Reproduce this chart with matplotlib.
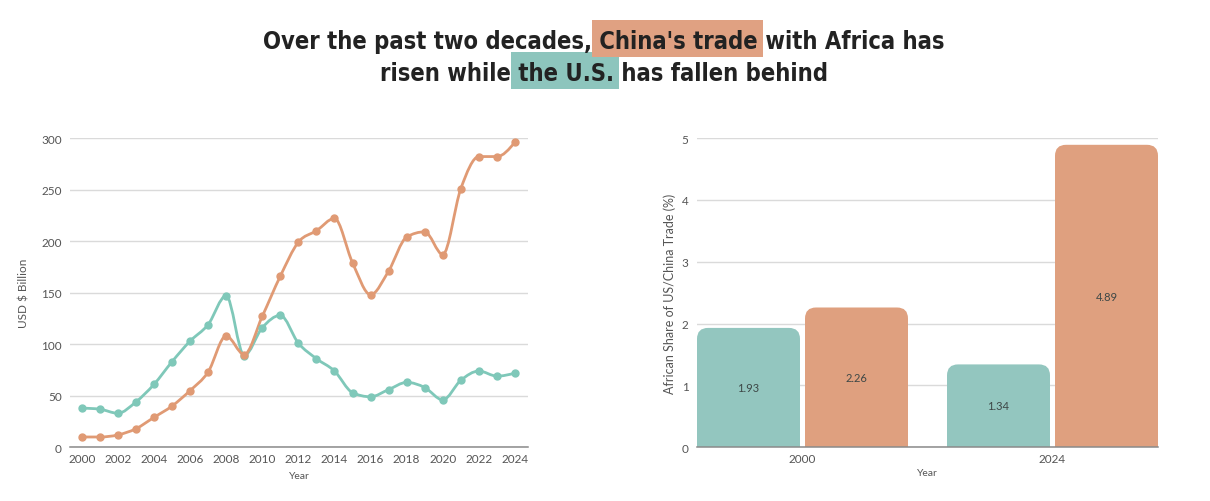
import numpy as np
import matplotlib
matplotlib.use("Agg")
import matplotlib.pyplot as plt
from matplotlib import font_manager
from matplotlib.path import Path
from matplotlib.patches import PathPatch, FancyBboxPatch, Rectangle

# ---------------- data ----------------
years = list(range(2000, 2025))
china_trade = [10, 10, 12, 18, 29, 40, 55, 73, 108, 90, 127, 166, 199, 210, 222,
               179, 148, 171, 204, 209, 187, 251, 282, 282, 296]
us_trade = [38, 37, 33, 44, 61, 83, 103, 119, 147, 89, 116, 128, 101, 86, 74,
            53, 49, 56, 63, 58, 46, 65, 74, 69, 72]
bar_years = ["2000", "2024"]
us_share = [1.93, 1.34]
china_share = [2.26, 4.89]
left_yticks = [0, 50, 100, 150, 200, 250, 300]
left_xticks = list(range(2000, 2025, 2))
right_yticks = [0, 1, 2, 3, 4, 5]

TEAL_LINE = "#7fc8b9"
ORANGE_LINE = "#e09a74"
TEAL_BAR = "#93c6bf"
ORANGE_BAR = "#dfa07f"
TEAL_HL = "#8dc5bd"
ORANGE_HL = "#e0a182"
GRID = "#dadada"
AXIS = "#8a8a8a"
TICK = "#555555"

plt.rcParams['font.family'] = ['Lato', 'DejaVu Sans']

W, H = 1210, 502
fig = plt.figure(figsize=(W / 100, H / 100), dpi=100)
fig.patch.set_facecolor("white")


def monotone_path(x, y):
    x = np.asarray(x, float)
    y = np.asarray(y, float)
    n = len(x)
    h = np.diff(x)
    s = np.diff(y) / h
    t = np.zeros(n)
    for i in range(1, n - 1):
        h0, h1 = h[i - 1], h[i]
        s0, s1 = s[i - 1], s[i]
        p = (s0 * h1 + s1 * h0) / (h0 + h1)
        t[i] = (np.sign(s0) + np.sign(s1)) * min(abs(s0), abs(s1), 0.5 * abs(p))
    t[0] = (3 * s[0] - t[1]) / 2
    t[-1] = (3 * s[-1] - t[-2]) / 2
    verts = [(x[0], y[0])]
    codes = [Path.MOVETO]
    for i in range(n - 1):
        dx = (x[i + 1] - x[i]) / 3
        verts += [(x[i] + dx, y[i] + dx * t[i]),
                  (x[i + 1] - dx, y[i + 1] - dx * t[i + 1]),
                  (x[i + 1], y[i + 1])]
        codes += [Path.CURVE4] * 3
    return Path(verts, codes)


def style_axes(ax):
    for side in ["top", "right", "left"]:
        ax.spines[side].set_visible(False)
    ax.spines["bottom"].set_color(AXIS)
    ax.spines["bottom"].set_linewidth(1.1)
    ax.tick_params(length=0, colors=TICK, labelsize=8.5)
    ax.yaxis.grid(True, color=GRID, linewidth=1)
    ax.set_axisbelow(True)


# ---------------- left: line chart ----------------
axL = fig.add_axes([70 / W, 1 - 448.3 / H, 458 / W, 309.3 / H])
style_axes(axL)
axL.set_xlim(1999.35, 2024.72)
axL.set_ylim(0, 300)
axL.set_yticks(left_yticks)
axL.set_xticks(left_xticks)
axL.tick_params(axis="y", pad=6)
axL.tick_params(axis="x", pad=4)

for vals, col in [(us_trade, TEAL_LINE), (china_trade, ORANGE_LINE)]:
    axL.add_patch(PathPatch(monotone_path(years, vals), facecolor="none",
                            edgecolor=col, lw=2.0, capstyle="round",
                            joinstyle="round", clip_on=False, zorder=3))
    axL.plot(years, vals, linestyle="none", marker="o", markersize=5,
             color=col, clip_on=False, zorder=4)

axL.set_xlabel("Year", fontsize=7.5, color=TICK, labelpad=5)
axL.set_ylabel("USD $ Billion", fontsize=8.5, color=TICK, labelpad=8)

# ---------------- right: bar chart ----------------
axR = fig.add_axes([697 / W, 1 - 448.3 / H, 461 / W, 309.3 / H])
style_axes(axR)
xlim = (-0.422, 1.422)
axR.set_xlim(*xlim)
axR.set_ylim(0, 5)
axR.set_yticks(right_yticks)
xpos = np.arange(len(bar_years))
axR.set_xticks(xpos)
axR.set_xticklabels(bar_years)
axR.tick_params(axis="y", pad=6)
axR.tick_params(axis="x", pad=4)

bw = 0.412
off = 0.216
px_per_x = 461 / (xlim[1] - xlim[0])
px_per_y = 309.3 / 5
rad_px = 11
r_x = rad_px / px_per_x
aspect = (rad_px / px_per_y) / r_x

for vals, col, sgn in [(us_share, TEAL_BAR, -1), (china_share, ORANGE_BAR, 1)]:
    for xi, v in zip(xpos, vals):
        x0 = xi + sgn * off - bw / 2
        axR.add_patch(FancyBboxPatch((x0, 0), bw, v,
                                     boxstyle=f"round,pad=0,rounding_size={r_x}",
                                     mutation_aspect=aspect, facecolor=col,
                                     edgecolor="none", zorder=2))
        axR.add_patch(Rectangle((x0, 0), bw, v / 2, facecolor=col,
                                edgecolor="none", zorder=2))
        axR.text(xi + sgn * off, v / 2, f"{v:.2f}", ha="center", va="center",
                 fontsize=8, color="#3d4746", zorder=3)

axR.set_xlabel("Year", fontsize=7.5, color=TICK, labelpad=3)
axR.set_ylabel("African Share of US/China Trade (%)", fontsize=9, color=TICK,
               labelpad=4)

# ---------------- title with highlighted phrases ----------------
def pick_title_font():
    cands = [dict(family="DejaVu Sans", stretch="condensed"),
             dict(family="Liberation Sans Narrow", stretch="normal"),
             dict(family="Roboto", stretch="normal")]
    for c in cands:
        fp = font_manager.FontProperties(family=c["family"], weight="bold",
                                         stretch=c["stretch"])
        try:
            f = font_manager.findfont(fp, fallback_to_default=False)
        except Exception:
            continue
        low = f.lower()
        if c["family"] == "DejaVu Sans" and "condensed" not in low:
            continue
        if c["family"] == "Liberation Sans Narrow" and "narrow" not in low:
            continue
        return fp
    return font_manager.FontProperties(family="DejaVu Sans", weight="bold")


title_fp = pick_title_font()
title_lines = [
    [("Over the past two decades,", None), (" China's trade", ORANGE_HL),
     (" with Africa has", None)],
    [("risen while", None), (" the U.S.", TEAL_HL), (" has fallen behind", None)],
]
renderer = fig.canvas.get_renderer()
baselines = [49, 81]
center_x = 604
target_w = 683.0

# fit the font size so the first line is as wide as in the reference
size = 18.0
probe = fig.text(0, 0, "".join(s for s, _ in title_lines[0]),
                 fontproperties=title_fp, fontsize=size)
pw = probe.get_window_extent(renderer).width
probe.remove()
size = min(20.0, size * target_w / pw)

for li, (line, base) in enumerate(zip(title_lines, baselines)):
    texts = []
    for seg, hl in line:
        t = fig.text(0, 1 - base / H, seg, fontproperties=title_fp,
                     fontsize=size, color="#222222", va="baseline", ha="left",
                     zorder=2)
        texts.append((t, hl))
    widths = [t.get_window_extent(renderer).width for t, _ in texts]
    x = center_x - sum(widths) / 2
    for (t, hl), w in zip(texts, widths):
        t.set_x(x / W)
        if hl is not None:
            fig.patches.append(Rectangle((x / W, 1 - (base + 9) / H),
                                         (w + 5) / W, 37.5 / H,
                                         transform=fig.transFigure,
                                         facecolor=hl, edgecolor="none",
                                         zorder=1 if li == 0 else 0))
        x += w

fig.savefig("out.png", dpi=100, facecolor="white")
